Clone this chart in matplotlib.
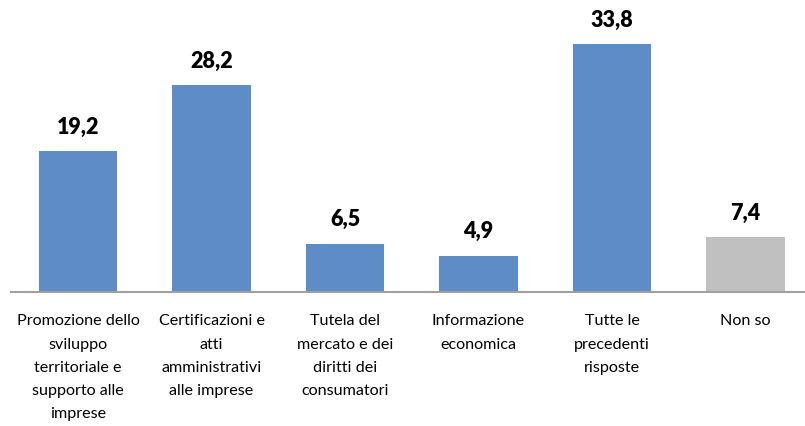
import matplotlib
matplotlib.use("Agg")
import matplotlib.pyplot as plt
from matplotlib import transforms

plt.rcParams['font.family'] = ['Lato', 'DejaVu Sans']

categories = [
    "Promozione dello\nsviluppo\nterritoriale e\nsupporto alle\nimprese",
    "Certificazioni e\natti\namministrativi\nalle imprese",
    "Tutela del\nmercato e dei\ndiritti dei\nconsumatori",
    "Informazione\neconomica",
    "Tutte le\nprecedenti\nrisposte",
    "Non so",
]
values = [19.2, 28.2, 6.5, 4.9, 33.8, 7.4]
value_labels = ["19,2", "28,2", "6,5", "4,9", "33,8", "7,4"]
colors = ["#5E8CC7"] * 5 + ["#C0C0C0"]

fig = plt.figure(figsize=(8.05, 4.27), dpi=100)
W, H = 805, 427
left_px, right_px = 11.25, 812.25
top_px, base_px = 0, 292.5
ax = fig.add_axes([left_px / W, (H - base_px) / H,
                   (right_px - left_px) / W, (base_px - top_px) / H])

x = list(range(len(values)))
ax.bar(x, values, width=0.585, color=colors, zorder=2)
ax.set_xlim(-0.5, len(values) - 0.5)
ax.set_ylim(0, 40)

for s in ["top", "left", "right"]:
    ax.spines[s].set_visible(False)
ax.spines["bottom"].set_color("#A0A0A0")
ax.spines["bottom"].set_linewidth(1.5)
ax.set_yticks([])
ax.set_xticks([])

for xi, v, lab in zip(x, values, value_labels):
    ax.annotate(lab, (xi, v), xytext=(0, 10.5), textcoords="offset points",
                ha="center", va="bottom", fontsize=15.5, fontweight="heavy",
                color="#000000")

trans = transforms.blended_transform_factory(ax.transData, ax.transAxes)
for xi, c in zip(x, categories):
    ax.text(xi, -0.075, c, transform=trans, ha="center", va="top",
            fontsize=11.6, linespacing=1.84, color="#000000")

fig.savefig("out.png", dpi=100)
